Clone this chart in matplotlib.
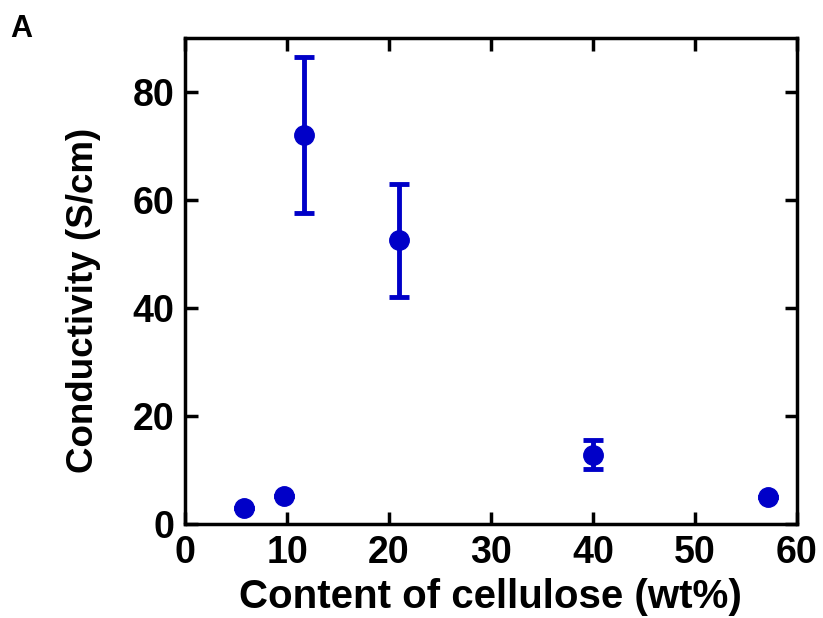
import matplotlib
matplotlib.use("Agg")
import matplotlib.pyplot as plt

plt.rcParams['font.family'] = ['Liberation Sans', 'DejaVu Sans']
plt.rcParams['font.weight'] = 'bold'

# cellulose content (wt%) vs conductivity (S/cm)
cellulose = [5.8, 9.7, 11.7, 21.0, 40.0, 57.2]
conductivity = [3.0, 5.2, 72.0, 52.5, 12.8, 5.0]
err = [0, 0, 14.5, 10.5, 2.7, 0]

fig = plt.figure(figsize=(8.23, 6.18), dpi=100)
ax = fig.add_axes([0.225, 0.152, 0.743, 0.787])

ax.errorbar(cellulose, conductivity, yerr=err, fmt='o', color='#0000c8',
            markersize=14, elinewidth=3.5, capsize=7, capthick=3.5, zorder=3)

ax.set_xlim(0, 60)
ax.set_ylim(0, 90)
ax.set_xticks([0, 10, 20, 30, 40, 50, 60])
ax.set_yticks([0, 20, 40, 60, 80])

ax.tick_params(direction='in', length=9, width=2.5, top=True, right=True,
               labelsize=27, pad=8)
for lbl in ax.get_xticklabels() + ax.get_yticklabels():
    lbl.set_fontweight('bold')
for s in ax.spines.values():
    s.set_linewidth(2.5)

ax.set_xlabel('Content of cellulose (wt%)', fontsize=29, fontweight='bold', labelpad=5)
ax.set_ylabel('Conductivity (S/cm)', fontsize=26.5, fontweight='bold')
ax.yaxis.set_label_coords(-0.138, 0.46)

fig.text(0.013, 0.94, 'A', fontsize=22, fontweight='bold')

fig.savefig('out.png', dpi=100)
